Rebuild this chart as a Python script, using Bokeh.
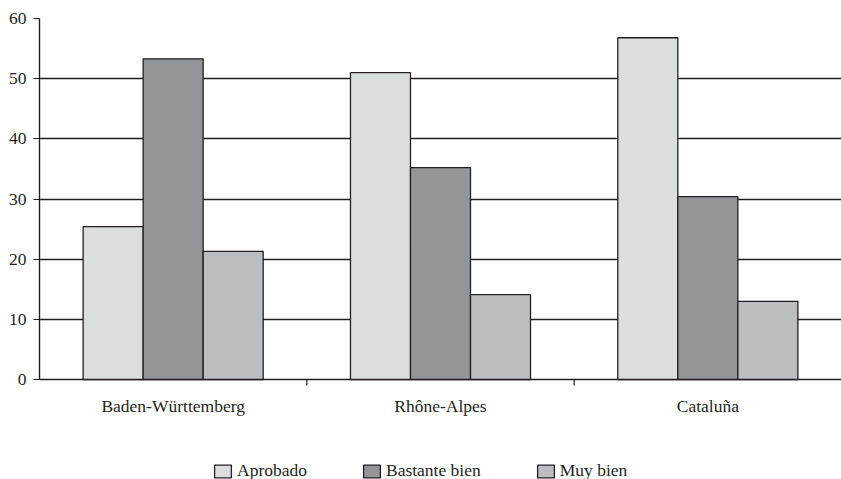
from bokeh.plotting import figure
from bokeh.models import ColumnDataSource, FixedTicker, Legend, LegendItem
from bokeh.transform import dodge
from bokeh.embed import file_html
from bokeh.resources import INLINE

regions = ["Baden-Württemberg", "Rhône-Alpes", "Cataluña"]
series = ["Aprobado", "Bastante bien", "Muy bien"]
aprobado = [25.4, 51.0, 56.8]
bastante_bien = [53.3, 35.2, 30.4]
muy_bien = [21.3, 14.1, 13.0]
y_ticks = [0, 10, 20, 30, 40, 50, 60]

colors = ["#dcdddf", "#939598", "#bcbdc0"]
ink = "#231f20"
font = "Liberation Serif"
fs = "17.5px"

# the frame runs down to the bottom of the page so the category labels and
# the legend can sit underneath the zero line
W, H = 841, 479
top_pad, left_pad = 18, 39
px_per_unit = 361 / 60.0
y_low = -100 / px_per_unit

centers = [i + 0.5 for i in range(len(regions))]
source = ColumnDataSource(dict(x=centers, a=aprobado, b=bastante_bien, m=muy_bien))

p = figure(width=W, height=H, x_range=(0, 3), y_range=(y_low, 60),
           output_backend="svg", toolbar_location=None,
           min_border_left=left_pad, min_border_right=0, min_border_top=top_pad,
           min_border_bottom=0)
p.outline_line_color = None
p.background_fill_color = "white"
p.border_fill_color = "white"

bw = 0.2245
renderers = []
for col, off, color in zip(["a", "b", "m"], [-bw, 0, bw], colors):
    r = p.vbar(x=dodge("x", off), top=col, width=bw, bottom=0, source=source,
               fill_color=color, line_color=ink, line_width=1.3)
    renderers.append(r)

# horizontal grid, including the zero line which doubles as the x axis
p.xgrid.visible = False
p.ygrid.ticker = FixedTicker(ticks=y_ticks)
p.ygrid.grid_line_color = ink
p.ygrid.grid_line_width = 1.4

# y axis stops at zero
p.yaxis.ticker = FixedTicker(ticks=y_ticks)
p.yaxis.bounds = (0, 60)
p.yaxis.axis_line_color = ink
p.yaxis.axis_line_width = 1.4
p.yaxis.major_tick_line_color = ink
p.yaxis.major_tick_line_width = 1.2
p.yaxis.major_tick_out = 6
p.yaxis.major_tick_in = 0
p.yaxis.minor_tick_line_color = None
p.yaxis.major_label_text_font = font
p.yaxis.major_label_text_font_size = fs
p.yaxis.major_label_text_color = ink
p.yaxis.major_label_standoff = 7

p.xaxis.visible = False

# small ticks between the category groups
bounds = list(range(1, len(regions)))
p.segment(x0=bounds, y0=[0] * len(bounds), x1=bounds,
          y1=[-6 / px_per_unit] * len(bounds), line_color=ink, line_width=1.2)

# category labels
p.text(x=centers, y=[-26 / px_per_unit] * len(centers), text=regions,
       text_align="center", text_baseline="middle", text_font=font,
       text_font_size=fs, text_color=ink)

legend = Legend(items=[LegendItem(label=s, renderers=[r]) for s, r in zip(series, renderers)],
                orientation="horizontal", location=(212 - left_pad, -2),
                label_text_font=font, label_text_font_size=fs,
                label_text_color=ink, glyph_width=21, glyph_height=16,
                label_standoff=4, spacing=54, border_line_color=None,
                background_fill_alpha=0, padding=0, margin=0)
p.add_layout(legend, "center")

open("out.html", "w").write(file_html(p, INLINE))
